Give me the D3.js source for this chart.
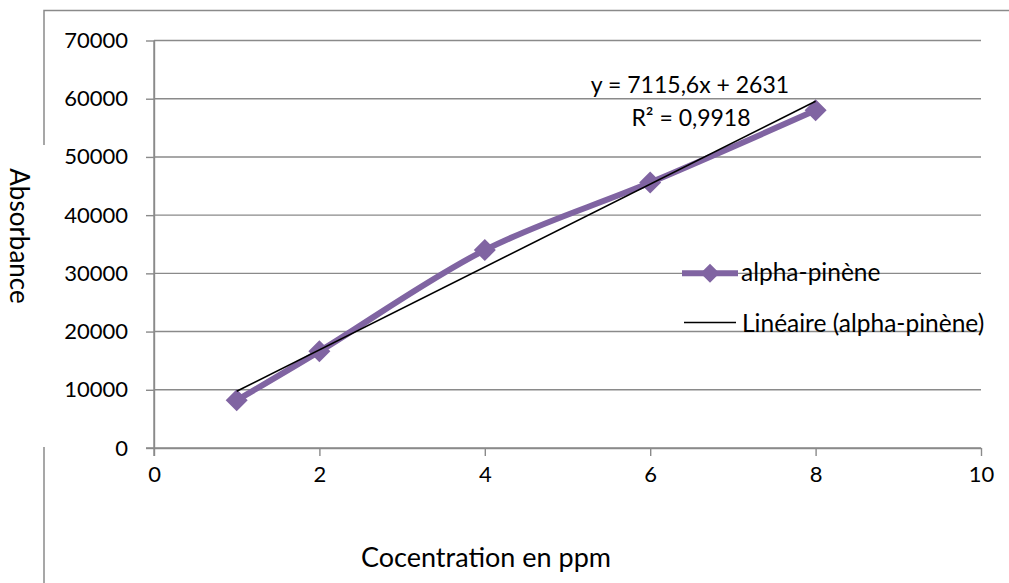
<!DOCTYPE html>
<html>
<head>
<meta charset="utf-8">
<script src="https://cdn.jsdelivr.net/npm/d3@7"></script>
<style>
  html, body { margin: 0; padding: 0; background: #fff; }
  svg { display: block; font-family: Lato, "Open Sans", sans-serif; }
</style>
</head>
<body>
<svg id="chart" width="1009" height="583"></svg>
<script>
// ---- data ----
const concentration = [1, 2, 4, 6, 8];
const absorbance = [8200, 16600, 34000, 45600, 58000];
const xTickValues = [0, 2, 4, 6, 8, 10];
const yTickValues = [0, 10000, 20000, 30000, 40000, 50000, 60000, 70000];
const trendSlope = 7115.6;
const trendIntercept = 2631;
const trendRange = [1, 8];
const equationLabel = "y = 7115,6x + 2631";
const r2Label = "R² = 0,9918";
const seriesName = "alpha-pinène";
const trendName = "Linéaire (alpha-pinène)";
const xTitle = "Cocentration en ppm";
const yTitle = "Absorbance";

// ---- layout ----
const svg = d3.select("#chart");
const x = d3.scaleLinear().domain([0, 10]).range([154, 981]);
const y = d3.scaleLinear().domain([0, 70000]).range([448, 40.5]);
const purple = "#8064A2";
const gridColor = "#8a8a8a";

// chart border (partially hidden by the axis title area)
svg.append("path")
  .attr("d", "M44,145 L44,10.5 L1009,10.5")
  .attr("fill", "none").attr("stroke", "#8a8a8a").attr("stroke-width", 1.5);
svg.append("line").attr("x1", 44).attr("x2", 44).attr("y1", 447).attr("y2", 583)
  .attr("stroke", "#8a8a8a").attr("stroke-width", 1.5);

// gridlines
svg.append("g").selectAll("line").data(yTickValues.filter(d => d > 0)).join("line")
  .attr("x1", x(0)).attr("x2", x(10))
  .attr("y1", d => y(d)).attr("y2", d => y(d))
  .attr("stroke", gridColor).attr("stroke-width", 1.4);

// y axis
const yAxis = svg.append("g").attr("transform", `translate(${x(0)},0)`)
  .call(d3.axisLeft(y).tickValues(yTickValues).tickSizeInner(8).tickSizeOuter(0).tickPadding(18).tickFormat(d3.format("d")));
// x axis
const xAxis = svg.append("g").attr("transform", `translate(0,${y(0)})`)
  .call(d3.axisBottom(x).tickValues(xTickValues).tickSizeInner(8).tickSizeOuter(0).tickPadding(10).tickFormat(d3.format("d")));

[yAxis, xAxis].forEach(a => {
  a.select(".domain").attr("stroke", gridColor).attr("stroke-width", 1.4);
  a.selectAll(".tick line").attr("stroke", gridColor).attr("stroke-width", 1.4);
  a.selectAll(".tick text").attr("fill", "#000").style("font-size", "22px").style("font-family", "Lato, sans-serif");
});
// extend axes through the origin tick marks
svg.append("line").attr("x1", x(0)).attr("x2", x(0)).attr("y1", y(70000)).attr("y2", y(0) + 8)
  .attr("stroke", gridColor).attr("stroke-width", 1.4);
svg.append("line").attr("x1", x(0) - 8).attr("x2", x(10)).attr("y1", y(0)).attr("y2", y(0))
  .attr("stroke", gridColor).attr("stroke-width", 1.4);

// series line (smoothed)
const pts = concentration.map((c, i) => [c, absorbance[i]]);
svg.append("path")
  .datum(pts)
  .attr("fill", "none").attr("stroke", purple).attr("stroke-width", 6)
  .attr("stroke-linejoin", "round")
  .attr("d", d3.line().x(d => x(d[0])).y(d => y(d[1])).curve(d3.curveCatmullRom.alpha(0.5)));

// markers
const diamond = r => `M0,${-r}L${r},0L0,${r}L${-r},0Z`;
svg.append("g").selectAll("path").data(pts).join("path")
  .attr("transform", d => `translate(${x(d[0])},${y(d[1])})`)
  .attr("d", diamond(11)).attr("fill", purple);

// trendline
svg.append("line")
  .attr("x1", x(trendRange[0])).attr("y1", y(trendSlope * trendRange[0] + trendIntercept))
  .attr("x2", x(trendRange[1])).attr("y2", y(trendSlope * trendRange[1] + trendIntercept))
  .attr("stroke", "#000").attr("stroke-width", 1.6);

// equation labels
svg.append("text").attr("x", 690).attr("y", 93).attr("text-anchor", "middle")
  .style("font-size", "23px").text(equationLabel);
svg.append("text").attr("x", 691).attr("y", 126).attr("text-anchor", "middle")
  .style("font-size", "23px").text(r2Label);

// legend
const lg = svg.append("g");
lg.append("line").attr("x1", 682).attr("x2", 738).attr("y1", y(30000)).attr("y2", y(30000))
  .attr("stroke", purple).attr("stroke-width", 6);
lg.append("path").attr("transform", `translate(710,${y(30000)})`).attr("d", diamond(9.5)).attr("fill", purple);
lg.append("text").attr("x", 741).attr("y", y(30000) + 8).style("font-size", "24.5px").text(seriesName);
lg.append("line").attr("x1", 684).attr("x2", 736).attr("y1", y(20000) - 9).attr("y2", y(20000) - 9)
  .attr("stroke", "#000").attr("stroke-width", 1.6);
lg.append("text").attr("x", 742).attr("y", y(20000)).style("font-size", "24.5px").text(trendName);

// axis titles
svg.append("text").attr("x", 486).attr("y", 567).attr("text-anchor", "middle")
  .style("font-size", "27px").text(xTitle);
svg.append("text").attr("transform", "translate(10,236) rotate(90)").attr("text-anchor", "middle")
  .style("font-size", "26px").text(yTitle);
</script>
</body>
</html>
